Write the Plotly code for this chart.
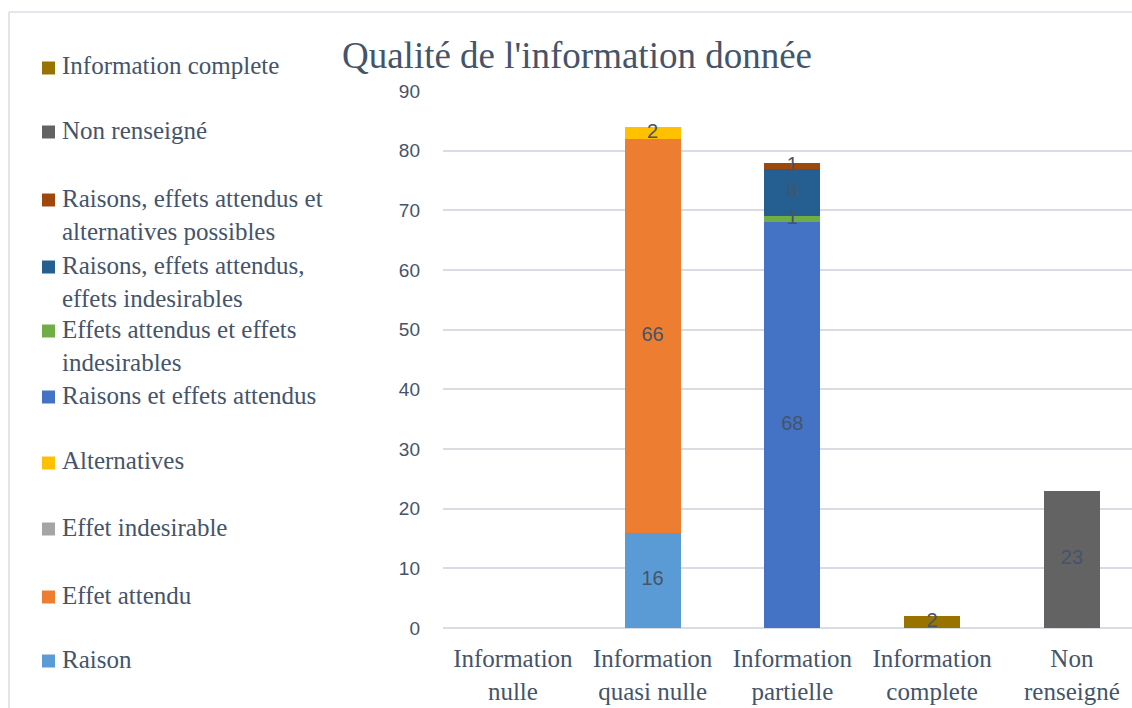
import numpy as np
import plotly.graph_objects as go

# ---------------- data ----------------
categories = ["Information<br>nulle", "Information<br>quasi nulle", "Information<br>partielle",
              "Information<br>complete", "Non<br>renseigné"]

series_names = [
    "Raison",
    "Effet attendu",
    "Effet indesirable",
    "Alternatives",
    "Raisons et effets attendus",
    "Effets attendus et effets indesirables",
    "Raisons, effets attendus, effets indesirables",
    "Raisons, effets attendus et alternatives possibles",
    "Non renseigné",
    "Information complete",
]
legend_labels = [
    "Raison",
    "Effet attendu",
    "Effet indesirable",
    "Alternatives",
    "Raisons et effets attendus",
    "Effets attendus et effets<br>indesirables",
    "Raisons, effets attendus,<br>effets indesirables",
    "Raisons, effets attendus et<br>alternatives possibles",
    "Non renseigné",
    "Information complete",
]
raison = [0, 16, 0, 0, 0]
effet_attendu = [0, 66, 0, 0, 0]
effet_indesirable = [0, 0, 0, 0, 0]
alternatives = [0, 2, 0, 0, 0]
raisons_effets = [0, 0, 68, 0, 0]
effets_att_indes = [0, 0, 1, 0, 0]
raisons_eff_indes = [0, 0, 8, 0, 0]
raisons_eff_alt = [0, 0, 1, 0, 0]
non_renseigne = [0, 0, 0, 0, 23]
info_complete = [0, 0, 0, 2, 0]
y_ticks = [0, 10, 20, 30, 40, 50, 60, 70, 80, 90]

series_values = [raison, effet_attendu, effet_indesirable, alternatives, raisons_effets,
                 effets_att_indes, raisons_eff_indes, raisons_eff_alt, non_renseigne, info_complete]

# ---------------- style ----------------
colors = ["#5b9bd5", "#ed7d31", "#a5a5a5", "#ffc000", "#4472c4",
          "#70ad47", "#255e91", "#9e480e", "#636363", "#997300"]
TXT = "#44546a"
SERIF = "Liberation Serif"
SANS = "Liberation Sans"
W, H = 1132, 708
PL, PB, PT = 443, 628, 91   # plot area pixel edges


def px(x):
    return x / W


def py(y):
    return 1 - y / H


fig = go.Figure()
vals = np.array(series_values, dtype=float)
bottoms = np.vstack([np.zeros(vals.shape[1]), np.cumsum(vals, axis=0)[:-1]])
for name, v, c in zip(series_names, series_values, colors):
    fig.add_trace(go.Bar(x=categories, y=v, name=name, marker=dict(color=c, line=dict(width=0)),
                         width=0.4, showlegend=False, hoverinfo="x+y+name"))

# data labels at segment centres
lx, ly, lt = [], [], []
for i in range(vals.shape[0]):
    for j in range(vals.shape[1]):
        if vals[i, j] > 0:
            lx.append(categories[j])
            ly.append(bottoms[i, j] + vals[i, j] / 2)
            lt.append(str(int(vals[i, j])))
fig.add_trace(go.Scatter(x=lx, y=ly, text=lt, mode="text", showlegend=False, hoverinfo="skip",
                         textfont=dict(family=SANS, size=20, color=TXT)))

# manual legend (Excel-like spacing)
leg_first_line = [661, 597, 529, 463, 397, 331, 267, 200, 132, 68]
annotations = []
shapes = []
for lab, c, yc in zip(legend_labels, colors, leg_first_line):
    annotations.append(dict(x=px(61), y=py(yc - 16.5), xref="paper", yref="paper", text=lab,
                            showarrow=False, xanchor="left", yanchor="top", align="left",
                            font=dict(family=SERIF, size=25, color=TXT), borderpad=0))
    shapes.append(dict(type="rect", xref="paper", yref="paper", x0=px(42), x1=px(55),
                       y0=py(yc - 6.5), y1=py(yc + 6.5), fillcolor=c, line=dict(width=0)))

# chart border (top / left)
shapes.append(dict(type="line", xref="paper", yref="paper", x0=px(9), x1=px(W), y0=py(12), y1=py(12),
                   line=dict(color="#d9dde3", width=1.5)))
shapes.append(dict(type="line", xref="paper", yref="paper", x0=px(9), x1=px(9), y0=py(12), y1=py(H),
                   line=dict(color="#d9dde3", width=1.5)))

fig.update_layout(
    width=W, height=H,
    barmode="stack",
    plot_bgcolor="white", paper_bgcolor="white",
    margin=dict(l=0, r=0, t=0, b=0, autoexpand=False),
    title=dict(text="Qualité de l'information donnée", x=px(577), y=py(55),
               xanchor="center", yanchor="middle", xref="paper", yref="paper",
               font=dict(family=SERIF, size=37, color=TXT)),
    xaxis=dict(domain=[px(PL), 1], range=[-0.5, 4.43], showgrid=False, showline=False,
               ticks="", ticklabelstandoff=13, tickfont=dict(family=SERIF, size=25, color=TXT)),
    yaxis=dict(domain=[py(PB), py(PT)], range=[0, 90], tickvals=y_ticks,
               showgrid=True, gridcolor="#d9dde3", gridwidth=1.5,
               zeroline=True, zerolinecolor="#d9dde3", zerolinewidth=1.5,
               showline=False, ticks="", ticklabelstandoff=22,
               tickfont=dict(family=SANS, size=19, color=TXT)),
    annotations=annotations,
    shapes=shapes,
    showlegend=False,
)

fig.write_html("out.html", config={"displayModeBar": False},
               post_script="document.body.style.margin='0';")
